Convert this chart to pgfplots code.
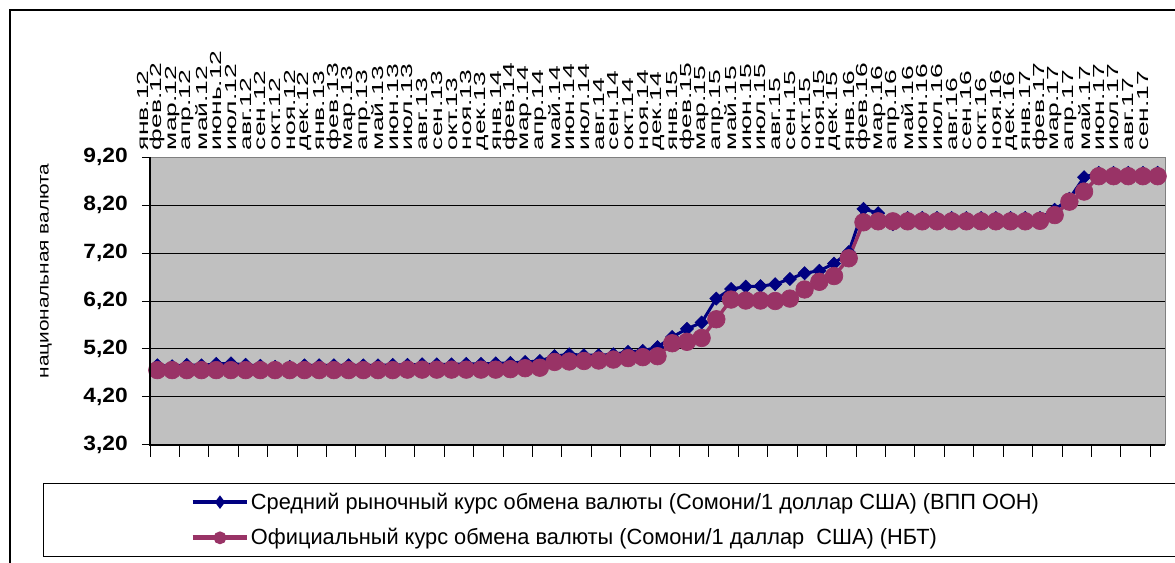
\documentclass[border=0pt]{standalone}
\usepackage{fontspec}
\setmainfont{Liberation Sans}
\newfontfamily\legfont[FakeStretch=0.99]{Liberation Sans}
\newfontfamily\tickfont[FakeStretch=1.65]{Liberation Sans}
\newfontfamily\ylabfont[FakeStretch=1.3]{Liberation Sans}
\newfontfamily\ynumfont[FakeStretch=1.1]{Liberation Sans}
\usepackage{pgfplots}
\pgfplotsset{compat=1.18}
\usepackage{pgfplotstable}
\definecolor{navyc}{RGB}{0,0,128}
\definecolor{plumc}{RGB}{153,51,102}
\definecolor{silverc}{RGB}{192,192,192}

\pgfplotstableread{
i m o
0 4.86 4.76
1 4.84 4.76
2 4.87 4.76
3 4.86 4.76
4 4.89 4.76
5 4.90 4.76
6 4.87 4.76
7 4.85 4.76
8 4.83 4.76
9 4.83 4.76
10 4.86 4.76
11 4.86 4.76
12 4.86 4.76
13 4.86 4.76
14 4.86 4.76
15 4.86 4.76
16 4.87 4.76
17 4.87 4.77
18 4.88 4.77
19 4.88 4.77
20 4.88 4.77
21 4.89 4.77
22 4.89 4.77
23 4.90 4.77
24 4.91 4.78
25 4.93 4.80
26 4.95 4.81
27 5.05 4.93
28 5.09 4.94
29 5.07 4.95
30 5.07 4.96
31 5.09 4.98
32 5.14 5.01
33 5.16 5.03
34 5.24 5.05
35 5.45 5.32
36 5.62 5.35
37 5.75 5.43
38 6.25 5.82
39 6.45 6.23
40 6.50 6.21
41 6.51 6.21
42 6.55 6.20
43 6.66 6.25
44 6.78 6.44
45 6.83 6.60
46 6.98 6.72
47 7.22 7.09
48 8.12 7.84
49 8.03 7.86
50 7.80 7.86
51 7.93 7.86
52 7.93 7.86
53 7.93 7.86
54 7.93 7.86
55 7.93 7.86
56 7.93 7.86
57 7.93 7.86
58 7.93 7.86
59 7.93 7.86
60 7.93 7.87
61 8.10 7.99
62 8.33 8.27
63 8.78 8.48
64 8.87 8.80
65 8.87 8.80
66 8.87 8.80
67 8.87 8.80
68 8.87 8.80
}\ratetable

\begin{document}
\begin{tikzpicture}
\path[use as bounding box] (0,0) rectangle (881.25pt,422.25pt);
\draw[black, line width=1.1pt] (7.5pt,0) -- (7.5pt,414.75pt) -- (881.25pt,414.75pt);
\node[rotate=90, font=\ylabfont\fontsize{12}{12}\selectfont, inner sep=0pt] at (34.5pt,219pt) {национальная валюта};
\begin{axis}[
  at={(112.5pt,88.5pt)}, anchor=south west,
  scale only axis, width=761.25pt, height=216pt,
  xmin=-0.5, xmax=68.5, ymin=3.2, ymax=9.2,
  clip=false,
  axis background/.style={fill=silverc},
  axis line style={draw=gray, line width=0.75pt},
  xtick={0,...,68},
  xticklabels={янв.12,фев.12,мар.12,апр.12,май.12,июнь.12,июл.12,авг.12,сен.12,окт.12,ноя.12,дек.12,
    янв.13,фев.13,мар.13,апр.13,май.13,июн.13,июл.13,авг.13,сен.13,окт.13,ноя.13,дек.13,
    янв.14,фев.14,мар.14,апр.14,май.14,июн.14,июл.14,авг.14,сен.14,окт.14,ноя.14,дек.14,
    янв.15,фев.15,мар.15,апр.15,май.15,июн.15,июл.15,авг.15,сен.15,окт.15,ноя.15,дек.15,
    янв.16,фев.16,мар.16,апр.16,май.16,июн.16,июл.16,авг.16,сен.16,окт.16,ноя.16,дек.16,
    янв.17,фев.17,мар.17,апр.17,май.17,июн.17,июл.17,авг.17,сен.17},
  xticklabel pos=upper,
  xtick style={draw=none},
  xticklabel style={rotate=90, anchor=west, font=\tickfont\fontsize{12}{12}\selectfont, inner sep=0pt, xshift=-1pt, yshift=11pt},
  ytick={3.2,4.2,5.2,6.2,7.2,8.2,9.2},
  ytick pos=left,
  ytick style={black, line width=0.75pt},
  major tick length=6pt,
  tick align=outside,
  yticklabel style={font=\ynumfont\bfseries\fontsize{15.5}{15.5}\selectfont, inner sep=0pt, anchor=east, xshift=-10.5pt},
  ymajorgrids, grid style={black, line width=0.75pt},
  /pgf/number format/.cd, fixed, fixed zerofill, precision=2, use comma, assume math mode=true, /pgfplots/.cd,
  extra description/.code={\draw[black, line width=1pt] (0,1) -- (0,0) -- (1,0);},
  legend style={at={(axis description cs:-0.10542,-0.13194)}, anchor=north west, draw=black, line width=1pt, fill=white,
    inner xsep=110pt, inner ysep=6pt, row sep=11pt, font=\legfont\fontsize{16.5}{16.5}\selectfont,
    nodes={inner sep=1pt}},
  legend cell align=left,
  legend image code/.code={\draw[mark repeat=2,mark phase=2,#1,line width=3.5pt, mark options={scale=0.45}] plot coordinates {(0pt,0pt) (20.5pt,0pt) (41pt,0pt)};},
]
\addplot[navyc, line width=2.25pt, mark=diamond*, mark size=4.9pt, mark options={line width=0.5pt, xscale=1.33}] table[x=i, y=m] {\ratetable};
\addlegendentry{Средний рыночный курс обмена валюты (Сомони/1 доллар США) (ВПП ООН)}
\addplot[plumc, line width=2.6pt, mark=*, mark size=6.6pt, mark options={line width=0.5pt}] table[x=i, y=o] {\ratetable};
\addlegendentry{Официальный курс обмена валюты (Сомони/1 даллар~ США) (НБТ)}
\end{axis}
\begin{axis}[
  at={(112.5pt,88.5pt)}, anchor=south west,
  scale only axis, width=761.25pt, height=216pt,
  xmin=-0.5, xmax=68.5, ymin=3.2, ymax=9.2,
  axis line style={draw=none},
  xtick={-0.5,1.5,...,67.5}, xticklabels={},
  xtick pos=lower, tick align=outside, major tick length=9pt,
  xtick style={black, line width=0.75pt},
  ytick=\empty,
]
\addplot[draw=none] coordinates {(0,5)};
\end{axis}
\end{tikzpicture}
\end{document}
